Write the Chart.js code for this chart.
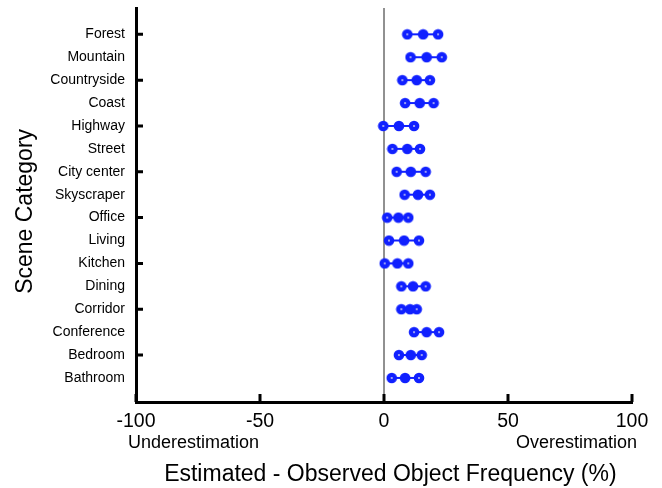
<!DOCTYPE html>
<html>
<head>
<meta charset="utf-8">
<script src="https://cdn.jsdelivr.net/npm/chart.js@4/dist/chart.umd.min.js"></script>
<style>
  html, body { margin: 0; background: #fff; }
  #wrap { width: 662px; height: 488px; }
</style>
</head>
<body>
<div id="wrap"><canvas id="chart"></canvas></div>
<script>
// --- Data ---
const categories = ['Forest', 'Mountain', 'Countryside', 'Coast', 'Highway', 'Street', 'City center', 'Skyscraper',
    'Office', 'Living', 'Kitchen', 'Dining', 'Corridor', 'Conference', 'Bedroom', 'Bathroom'];
const lowValues  = [9.4, 10.7, 7.4, 8.5, -0.3, 3.4, 5.1, 8.3, 1.3, 2.0, 0.3, 7.0, 7.0, 12.1, 6.0, 3.1];
const meanValues = [15.8, 17.2, 13.2, 14.4, 6.0, 9.4, 10.8, 13.7, 5.8, 8.1, 5.4, 11.7, 10.5, 17.2, 10.8, 8.5];
const highValues = [21.8, 23.3, 18.5, 20.0, 12.1, 14.5, 16.8, 18.5, 9.8, 14.1, 9.8, 16.8, 13.2, 22.2, 15.2, 14.1];
const xTicks = [-100, -50, 0, 50, 100];

const BLUE = '#1020ff';
const FONT = '"Liberation Sans", Arial, sans-serif';

// marker images: end points have a small white centre, the mean is solid
function makeMarker(withHole) {
    const c = document.createElement('canvas');
    c.width = 12; c.height = 12;
    const g = c.getContext('2d');
    g.fillStyle = BLUE;
    g.beginPath(); g.arc(6, 6, 5.3, 0, Math.PI * 2); g.fill();
    if (withHole) {
        g.fillStyle = '#dde';
        g.beginPath(); g.arc(6, 6, 0.9, 0, Math.PI * 2); g.fill();
    }
    return c;
}
const endMarker = makeMarker(true);
const midMarker = makeMarker(false);

const datasets = categories.map((name, i) => ({
    label: name,
    data: [
        { x: lowValues[i], y: i },
        { x: meanValues[i], y: i },
        { x: highValues[i], y: i }
    ],
    showLine: true,
    borderColor: BLUE,
    backgroundColor: BLUE,
    borderWidth: 2,
    pointStyle: [endMarker, midMarker, endMarker],
    pointRadius: 5
}));

// --- Extra drawing: zero line, inward ticks, under/over labels ---
const extrasPlugin = {
    id: 'extras',
    beforeDatasetsDraw(chart) {
        const { ctx, chartArea, scales } = chart;
        const x0 = scales.x.getPixelForValue(0);
        ctx.save();
        ctx.strokeStyle = '#222';
        ctx.lineWidth = 1;
        ctx.beginPath();
        ctx.moveTo(x0, chartArea.top);
        ctx.lineTo(x0, chartArea.bottom);
        ctx.stroke();
        ctx.restore();
    },
    afterDraw(chart) {
        const { ctx, chartArea, scales } = chart;
        ctx.save();
        ctx.strokeStyle = '#000';
        ctx.lineWidth = 3;
        ctx.beginPath();
        for (let i = 0; i < categories.length; i += 2) {
            const y = scales.y.getPixelForValue(i);
            ctx.moveTo(chartArea.left, y);
            ctx.lineTo(chartArea.left + 7, y);
        }
        xTicks.forEach(v => {
            const x = scales.x.getPixelForValue(v);
            ctx.moveTo(x, chartArea.bottom);
            ctx.lineTo(x, chartArea.bottom - 8);
        });
        ctx.stroke();

        ctx.fillStyle = '#000';
        ctx.font = '18px ' + FONT;
        ctx.textBaseline = 'alphabetic';
        ctx.textAlign = 'left';
        ctx.fillText('Underestimation', chartArea.left - 8, 448);
        ctx.textAlign = 'right';
        ctx.fillText('Overestimation', chartArea.right + 5, 448);
        ctx.restore();
    }
};

new Chart(document.getElementById('chart'), {
    type: 'scatter',
    data: { datasets },
    options: {
        responsive: true,
        maintainAspectRatio: false,
        animation: false,
        devicePixelRatio: 1,
        layout: { padding: { top: 8, right: 30, bottom: 0, left: 0 } },
        plugins: {
            legend: { display: false },
            tooltip: { enabled: false }
        },
        scales: {
            x: {
                type: 'linear',
                min: -100,
                max: 100,
                afterBuildTicks: scale => { scale.ticks = xTicks.map(v => ({ value: v })); },
                afterFit: scale => { scale.height = 86; scale.paddingLeft = 0; scale.paddingRight = 0; },
                grid: { drawOnChartArea: false, drawTicks: false },
                border: { color: '#000', width: 3 },
                ticks: { color: '#000', font: { family: FONT, size: 19.5 }, padding: 8, maxRotation: 0 },
                title: {
                    display: true,
                    text: '  Estimated - Observed Object Frequency (%)',
                    color: '#000',
                    font: { family: FONT, size: 23 },
                    padding: { top: 4, bottom: 0 }
                }
            },
            y: {
                type: 'linear',
                reverse: true,
                min: -1.15,
                max: 16.05,
                afterBuildTicks: scale => { scale.ticks = categories.map((c, i) => ({ value: i })); },
                afterFit: scale => { scale.width = 136; scale.paddingTop = 0; scale.paddingBottom = 0; },
                grid: { drawOnChartArea: false, drawTicks: false },
                border: { color: '#000', width: 3 },
                ticks: {
                    color: '#000',
                    font: { family: FONT, size: 14 },
                    padding: 11,
                    autoSkip: false,
                    callback: v => categories[v]
                },
                title: {
                    display: true,
                    text: 'Scene Category  ',
                    color: '#000',
                    font: { family: FONT, size: 23 },
                    padding: { top: 12, bottom: 4 }
                }
            }
        }
    },
    plugins: [extrasPlugin]
});
</script>
</body>
</html>
